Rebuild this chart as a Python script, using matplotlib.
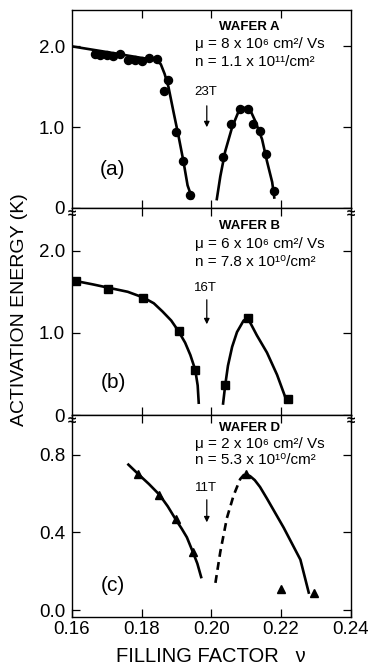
import matplotlib
matplotlib.use('Agg')
from matplotlib import pyplot as plt

plt.rcParams['font.family'] = ['Liberation Sans', 'DejaVu Sans']

# ---- data ----
# wafer A (circles)
a_x = [0.1666, 0.1681, 0.1700, 0.1719, 0.1738, 0.1762, 0.1781, 0.1801, 0.1820, 0.1844,
       0.1863, 0.1877, 0.1898, 0.1919, 0.1938,
       0.2035, 0.2058, 0.2083, 0.2106, 0.2119, 0.2141, 0.2156, 0.2179]
a_y = [1.90, 1.89, 1.89, 1.88, 1.90, 1.83, 1.83, 1.82, 1.85, 1.84,
       1.45, 1.58, 0.935, 0.576, 0.167,
       0.633, 1.045, 1.22, 1.22, 1.045, 0.95, 0.667, 0.21]
a_fit1_x = [0.1600, 0.1700, 0.1796, 0.1840, 0.1855, 0.1866, 0.1877, 0.1892, 0.1906, 0.1920,
            0.1932, 0.1945]
a_fit1_y = [2.00, 1.93, 1.86, 1.83, 1.78, 1.66, 1.50, 1.18, 0.89, 0.58, 0.28, 0.12]
a_fit2_x = [0.2016, 0.2026, 0.2040, 0.2060, 0.2079, 0.2093, 0.2110, 0.2127, 0.2146, 0.2160,
            0.2175, 0.2181]
a_fit2_y = [0.11, 0.39, 0.70, 1.00, 1.20, 1.24, 1.23, 1.07, 0.85, 0.58, 0.32, 0.13]

# wafer B (squares)
b_x = [0.1612, 0.1704, 0.1805, 0.1906, 0.1954, 0.2040, 0.2105, 0.2220]
b_y = [1.63, 1.54, 1.43, 1.02, 0.545, 0.36, 1.18, 0.20]
b_fit1_x = [0.1605, 0.1612, 0.1660, 0.1704, 0.1760, 0.1805, 0.1835, 0.1860, 0.1885, 0.1906,
            0.1925, 0.1940, 0.1954, 0.1961, 0.1964]
b_fit1_y = [1.64, 1.63, 1.59, 1.55, 1.50, 1.43, 1.36, 1.26, 1.15, 1.02,
            0.88, 0.73, 0.55, 0.36, 0.15]
b_fit2_x = [0.2034, 0.2040, 0.2048, 0.2060, 0.2074, 0.2093, 0.2105, 0.2131, 0.2160, 0.2189,
            0.2218]
b_fit2_y = [0.14, 0.36, 0.60, 0.83, 1.01, 1.15, 1.18, 0.97, 0.76, 0.49, 0.155]

# wafer D (triangles)
d_x = [0.1791, 0.1851, 0.1898, 0.1947, 0.2101, 0.2199, 0.2295]
d_y = [0.70, 0.595, 0.467, 0.30, 0.70, 0.11, 0.09]
d_fit1_x = [0.1762, 0.1791, 0.1821, 0.1851, 0.1875, 0.1898, 0.1915, 0.1930, 0.1947, 0.1960,
            0.1971]
d_fit1_y = [0.75, 0.70, 0.65, 0.595, 0.535, 0.467, 0.42, 0.375, 0.30, 0.24, 0.17]
d_dash_x = [0.2012, 0.2026, 0.2045, 0.2064, 0.2083, 0.2095]
d_dash_y = [0.14, 0.30, 0.475, 0.59, 0.675, 0.70]
d_fit2_x = [0.2101, 0.2112, 0.2125, 0.2140, 0.2160, 0.2208, 0.2256, 0.2280]
d_fit2_y = [0.70, 0.69, 0.67, 0.635, 0.575, 0.425, 0.26, 0.09]

x_ticks = [0.16, 0.18, 0.20, 0.22, 0.24]
x_labels = ['0.16', '0.18', '0.20', '0.22', '0.24']
ab_yticks = [0, 1.0, 2.0]
ab_ylabels = ['0', '1.0', '2.0']
d_yticks = [0.0, 0.4, 0.8]
d_ylabels = ['0.0', '0.4', '0.8']

wafers = ['WAFER A', 'WAFER B', 'WAFER D']
mu_text = ['μ = 8 x 10⁶ cm²/ Vs', 'μ = 6 x 10⁶ cm²/ Vs', 'μ = 2 x 10⁶ cm²/ Vs']
n_text = ['n = 1.1 x 10¹¹/cm²', 'n = 7.8 x 10¹⁰/cm²', 'n = 5.3 x 10¹⁰/cm²']
fields = ['23T', '16T', '11T']
tags = ['(a)', '(b)', '(c)']

# ---- layout in pixels ----
W, H = 368, 669
fig = plt.figure(figsize=(W / 100, H / 100), dpi=100)
left, right = 72, 350.5
tops = [10, 208, 415]
bots = [208, 415, 617]
axs = []
for t, b in zip(tops, bots):
    ax = fig.add_axes([left / W, 1 - b / H, (right - left) / W, (b - t) / H])
    axs.append(ax)

lw = 1.9
ax = axs[0]
ax.plot(a_fit1_x, a_fit1_y, color='k', lw=lw)
ax.plot(a_fit2_x, a_fit2_y, color='k', lw=lw)
ax.plot(a_x, a_y, 'o', color='k', ms=5.8)
ax.set_ylim(0, 2.45)

ax = axs[1]
ax.plot(b_fit1_x, b_fit1_y, color='k', lw=lw)
ax.plot(b_fit2_x, b_fit2_y, color='k', lw=lw)
ax.plot(b_x, b_y, 's', color='k', ms=5.3)
ax.set_ylim(0, 2.52)

ax = axs[2]
ax.plot(d_fit1_x, d_fit1_y, color='k', lw=lw)
ax.plot(d_dash_x, d_dash_y, color='k', lw=lw, dashes=(3, 2))
ax.plot(d_fit2_x, d_fit2_y, color='k', lw=lw)
ax.plot(d_x, d_y, '^', color='k', ms=5.8)
ax.set_ylim(-0.036, 1.006)

# text positions (axes fraction) per panel
txt_y = [(0.912, 0.826, 0.737, 0.586, 0.530, 0.394, 0.192),
         (0.914, 0.824, 0.739, 0.614, 0.570, 0.425, 0.155),
         (0.934, 0.854, 0.775, 0.639, 0.594, 0.455, 0.158)]

for i, ax in enumerate(axs):
    ax.set_xlim(0.16, 0.24)
    for s in ax.spines.values():
        s.set_linewidth(1.0)
    ax.tick_params(direction='in', length=6, width=0.9, top=True, right=True,
                   labelsize=13.5, pad=5)
    ax.tick_params(axis='x', pad=3)
    if i < 2:
        ax.set_yticks(ab_yticks)
        ax.set_yticklabels(ab_ylabels)
        ax.set_xticks(x_ticks[1:4])
        ax.set_xticklabels([])
    else:
        ax.set_yticks(d_yticks)
        ax.set_yticklabels(d_ylabels)
        ax.set_xticks(x_ticks)
        ax.set_xticklabels(x_labels)

    wy, my, ny, fy, ay0, ay1, ty = txt_y[i]
    ax.text(0.636, wy, wafers[i], transform=ax.transAxes, ha='center', va='center',
            fontsize=9.5, fontweight='bold')
    ax.text(0.443, my, mu_text[i], transform=ax.transAxes, ha='left', va='center',
            fontsize=11)
    ax.text(0.443, ny, n_text[i], transform=ax.transAxes, ha='left', va='center',
            fontsize=11)
    ax.text(0.48, fy, fields[i], transform=ax.transAxes, ha='center', va='center',
            fontsize=9.5)
    ax.annotate('', xy=(0.484, ay1), xytext=(0.484, ay0), xycoords='axes fraction',
                arrowprops=dict(arrowstyle='-|>', lw=0.9, color='k', mutation_scale=8))
    ax.text(0.147, ty, tags[i], transform=ax.transAxes, ha='center', va='center',
            fontsize=15)

# axis-break marks between panels
for yb in bots[:2]:
    for xb in (left, right):
        fig.text(xb / W, 1 - (yb + 6) / H, '≈', ha='center', va='center', fontsize=11,
                 fontweight='bold')

fig.text(20 / W, 1 - 310 / H, 'ACTIVATION ENERGY (K)', rotation=90, ha='center',
         va='center', fontsize=14)
fig.text(211 / W, 1 - 657 / H, 'FILLING FACTOR   ν', ha='center', va='center',
         fontsize=14.5)

fig.savefig('out.png', dpi=100)
